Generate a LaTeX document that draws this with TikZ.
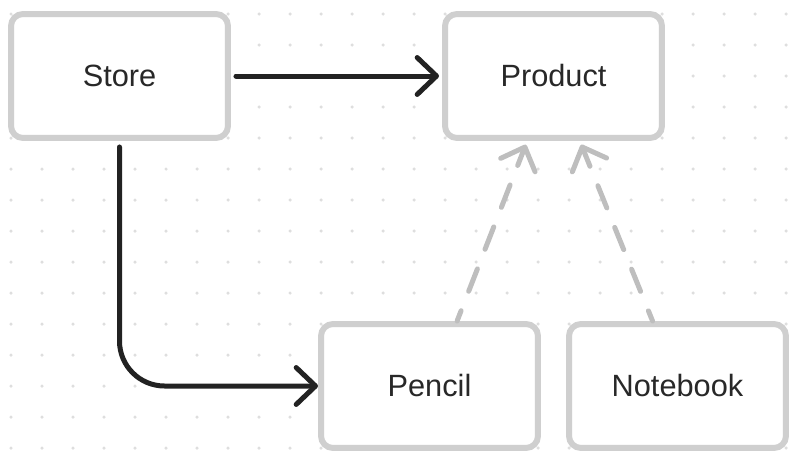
\documentclass[tikz,border=0pt]{standalone}
\usepackage{fontspec}
\setmainfont{Liberation Sans}
\usetikzlibrary{arrows.meta}
\definecolor{boxline}{RGB}{207,207,207}
\definecolor{dotcolor}{RGB}{222,222,222}
\definecolor{inkcolor}{RGB}{34,34,34}
\definecolor{textcolor}{RGB}{40,40,40}
\definecolor{dashcolor}{RGB}{190,190,190}
\tikzset{
  canvas/.style={x=0.02cm,y=-0.02cm,font=\fontsize{17.5}{20}\selectfont},
  entity/.style={draw=boxline,fill=white,line width=0.12cm,rounded corners=0.24cm,
    minimum width=4.34cm,minimum height=2.48cm,text=textcolor},
  barb/.tip={Straight Barb[length=11pt,width=21pt,round]},
  assoc/.style={-barb,line width=0.1cm,draw=inkcolor,line cap=round,line join=round},
  realize/.style={-barb,line width=0.1cm,draw=dashcolor,line cap=round,
    dash pattern=on 0.48cm off 0.42cm,dash phase=0.26cm},
}
\begin{document}
\begin{tikzpicture}[canvas]
\useasboundingbox (0,0) rectangle (801,463);
% dot grid
\foreach \i in {0,...,25} {
  \foreach \j in {0,...,14} {
    \fill[dotcolor] (11+31*\i,14+31*\j) circle (0.035cm);
  }
}
\node[entity] (store) at (119.5,76) {Store};
\node[entity] (product) at (553.5,76) {Product};
\node[entity] (pencil) at (429.5,386) {Pencil};
\node[entity] (notebook) at (677.5,386) {Notebook};
\draw[assoc,shorten <=0.1cm,shorten >=0.06cm] (store) -- (product);
\draw[assoc,rounded corners=0.9cm,shorten <=0.12cm] (store.south) |- (pencil.west);
\draw[realize,shorten >=0.08cm] (pencil.67) -- (product.-112);
\draw[realize,shorten >=0.08cm] (notebook.111) -- (product.-68);
\end{tikzpicture}
\end{document}
